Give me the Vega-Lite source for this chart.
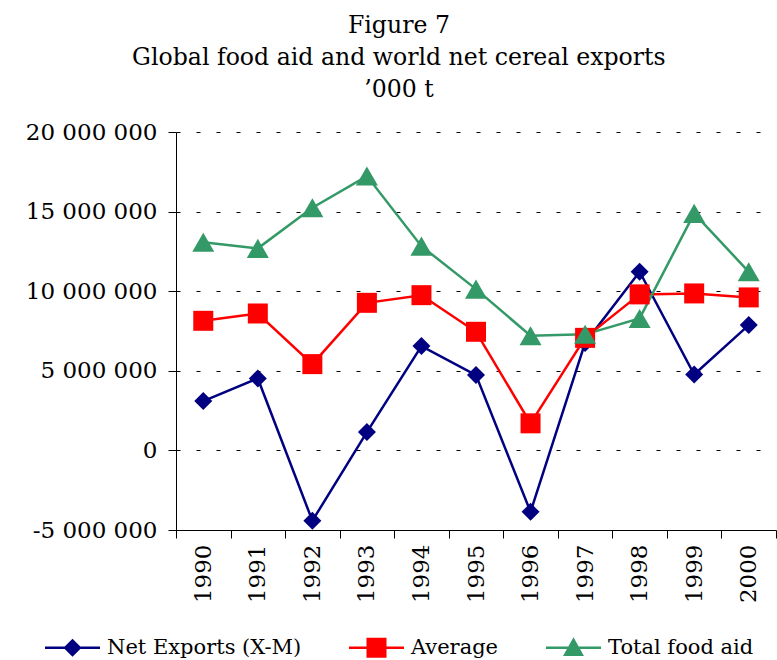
{
  "$schema": "https://vega.github.io/schema/vega-lite/v6.json",
  "width": 600,
  "height": 398,
  "autosize": "none",
  "padding": {"left": 176, "top": 132, "right": 1, "bottom": 130},
  "config": {
    "locale": {"number": {"decimal": ".", "thousands": " ", "grouping": [3], "currency": ["", ""], "minus": "-"}},
    "font": "DejaVu Serif",
    "view": {"stroke": null},
    "background": "white"
  },
  "title": {
    "text": ["Figure 7", "Global food aid and world net cereal exports", "’000 t"],
    "fontSize": 23.6,
    "fontWeight": "normal",
    "font": "DejaVu Serif",
    "lineHeight": 32,
    "frame": "bounds",
    "anchor": "middle",
    "offset": 19,
    "dx": -2,
    "color": "black"
  },
  "data": {
    "values": [
      {"year": "1990", "series": "Net Exports (X-M)", "value": 3100000},
      {"year": "1991", "series": "Net Exports (X-M)", "value": 4520000},
      {"year": "1992", "series": "Net Exports (X-M)", "value": -4420000},
      {"year": "1993", "series": "Net Exports (X-M)", "value": 1150000},
      {"year": "1994", "series": "Net Exports (X-M)", "value": 6550000},
      {"year": "1995", "series": "Net Exports (X-M)", "value": 4730000},
      {"year": "1996", "series": "Net Exports (X-M)", "value": -3860000},
      {"year": "1997", "series": "Net Exports (X-M)", "value": 6750000},
      {"year": "1998", "series": "Net Exports (X-M)", "value": 11220000},
      {"year": "1999", "series": "Net Exports (X-M)", "value": 4770000},
      {"year": "2000", "series": "Net Exports (X-M)", "value": 7870000},
      {"year": "1990", "series": "Average", "value": 8140000},
      {"year": "1991", "series": "Average", "value": 8600000},
      {"year": "1992", "series": "Average", "value": 5420000},
      {"year": "1993", "series": "Average", "value": 9270000},
      {"year": "1994", "series": "Average", "value": 9750000},
      {"year": "1995", "series": "Average", "value": 7450000},
      {"year": "1996", "series": "Average", "value": 1700000},
      {"year": "1997", "series": "Average", "value": 7070000},
      {"year": "1998", "series": "Average", "value": 9800000},
      {"year": "1999", "series": "Average", "value": 9860000},
      {"year": "2000", "series": "Average", "value": 9610000},
      {"year": "1990", "series": "Total food aid", "value": 13070000},
      {"year": "1991", "series": "Total food aid", "value": 12690000},
      {"year": "1992", "series": "Total food aid", "value": 15240000},
      {"year": "1993", "series": "Total food aid", "value": 17230000},
      {"year": "1994", "series": "Total food aid", "value": 12830000},
      {"year": "1995", "series": "Total food aid", "value": 10130000},
      {"year": "1996", "series": "Total food aid", "value": 7200000},
      {"year": "1997", "series": "Total food aid", "value": 7290000},
      {"year": "1998", "series": "Total food aid", "value": 8290000},
      {"year": "1999", "series": "Total food aid", "value": 14890000},
      {"year": "2000", "series": "Total food aid", "value": 11220000}
    ]
  },
  "encoding": {
    "x": {
      "field": "year",
      "type": "ordinal",
      "scale": {"type": "band", "paddingInner": 0, "paddingOuter": 0},
      "axis": {
        "title": null,
        "labelAngle": -90,
        "labelFontSize": 23,
        "labelFont": "DejaVu Serif",
        "labelColor": "black",
        "labelPadding": 6,
        "tickSize": 8,
        "tickBand": "extent",
        "tickColor": "black",
        "domainColor": "black",
        "grid": false
      }
    },
    "y": {
      "field": "value",
      "type": "quantitative",
      "scale": {"domain": [-5000000, 20000000], "nice": false, "zero": false},
      "axis": {
        "title": null,
        "values": [-5000000, 0, 5000000, 10000000, 15000000, 20000000],
        "format": ",d",
        "labelFontSize": 23,
        "labelFont": "DejaVu Serif",
        "labelColor": "black",
        "labelPadding": 11,
        "tickSize": 8,
        "tickColor": "black",
        "domainColor": "black",
        "grid": true,
        "gridColor": "black",
        "gridDash": [4, 16],
        "gridWidth": 1
      }
    },
    "color": {
      "field": "series",
      "type": "nominal",
      "scale": {"domain": ["Net Exports (X-M)", "Average", "Total food aid"], "range": ["#000080", "#FF0000", "#339966"]},
      "legend": {
        "title": null,
        "orient": "none",
        "legendX": -131,
        "legendY": 488,
        "direction": "horizontal",
        "padding": 0,
        "labelFontSize": 21,
        "labelFont": "DejaVu Serif",
        "labelColor": "black",
        "labelLimit": 400,
        "labelOffset": 7,
        "columnPadding": 47,
        "symbolSize": 3025,
        "symbolStrokeWidth": 0,
        "encode": {
          "symbols": {
            "update": {
              "shape": {"signal": "datum.value === 'Net Exports (X-M)' ? 'M-1,-0.045H1V0.045H-1Z M0,-0.33L0.33,0L0,0.33L-0.33,0Z' : datum.value === 'Average' ? 'M-1,-0.045H1V0.045H-1Z M-0.364,-0.364H0.364V0.364H-0.364Z' : 'M-1,-0.045H1V0.045H-1Z M0,-0.38L0.38,0.3H-0.38Z'"},
              "size": {"value": 3025},
              "fill": {"scale": "color", "field": "value"},
              "fillOpacity": {"value": 1},
              "strokeWidth": {"value": 0},
              "opacity": {"value": 1}
            }
          }
        }
      }
    }
  },
  "layer": [
    {
      "mark": {"type": "line", "strokeWidth": 2.5}
    },
    {
      "transform": [{"filter": "datum.series === 'Net Exports (X-M)'"}],
      "mark": {"type": "point", "shape": "diamond", "size": 324, "filled": true, "opacity": 1}
    },
    {
      "transform": [{"filter": "datum.series === 'Average'"}],
      "mark": {"type": "point", "shape": "square", "size": 400, "filled": true, "opacity": 1}
    },
    {
      "transform": [{"filter": "datum.series === 'Total food aid'"}],
      "mark": {"type": "point", "shape": "triangle-up", "size": 484, "filled": true, "opacity": 1}
    }
  ]
}
